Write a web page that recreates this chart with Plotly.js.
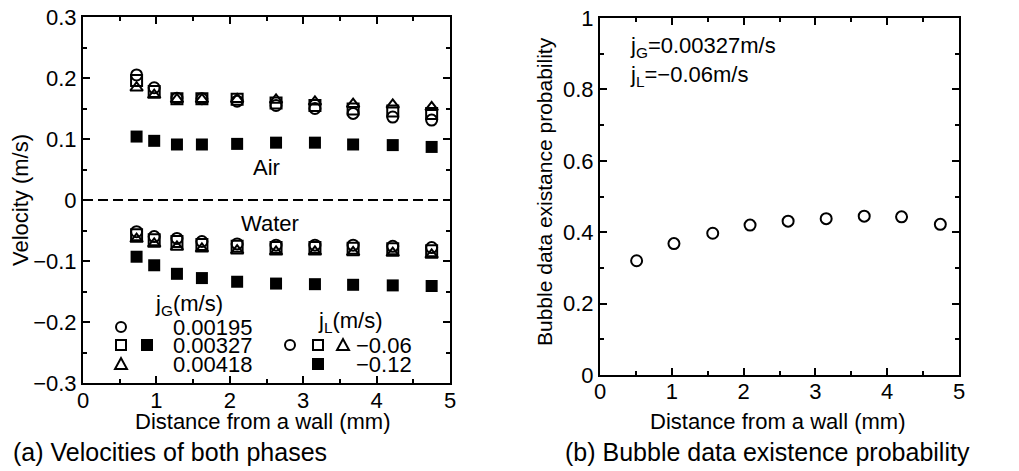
<!DOCTYPE html>
<html>
<head>
<meta charset="utf-8">
<script src="https://cdn.plot.ly/plotly-3.0.1.min.js"></script>
<style>html,body{margin:0;padding:0;background:#fff;}#chart{width:1019px;height:471px;}</style>
</head>
<body>
<div id="chart"></div>
<script>
// ---- Data ----
const distLeft = [0.73, 0.97, 1.28, 1.62, 2.10, 2.63, 3.16, 3.68, 4.22, 4.75];
// Air velocity (m/s), jL = -0.06
const airJG00195 = [0.205, 0.184, 0.167, 0.166, 0.162, 0.155, 0.150, 0.142, 0.136, 0.131];
const airJG00327 = [0.196, 0.178, 0.166, 0.166, 0.165, 0.159, 0.155, 0.149, 0.146, 0.142];
const airJG00418 = [0.184, 0.172, 0.165, 0.165, 0.165, 0.164, 0.161, 0.157, 0.156, 0.152];
// Air velocity, jG = 0.00327, jL = -0.12
const airJG00327JL012 = [0.104, 0.097, 0.091, 0.091, 0.092, 0.094, 0.094, 0.091, 0.090, 0.087];
// Water velocity (m/s), jL = -0.06
const waterJG00195 = [-0.052, -0.060, -0.063, -0.068, -0.072, -0.074, -0.074, -0.074, -0.076, -0.078];
const waterJG00327 = [-0.057, -0.065, -0.068, -0.073, -0.076, -0.078, -0.078, -0.079, -0.080, -0.083];
const waterJG00418 = [-0.064, -0.072, -0.077, -0.080, -0.083, -0.085, -0.085, -0.086, -0.087, -0.090];
// Water velocity, jG = 0.00327, jL = -0.12
const waterJG00327JL012 = [-0.093, -0.107, -0.121, -0.128, -0.134, -0.137, -0.138, -0.139, -0.140, -0.141];

const distRight = [0.51, 1.03, 1.57, 2.09, 2.62, 3.15, 3.68, 4.20, 4.74];
const existProb = [0.320, 0.368, 0.397, 0.420, 0.431, 0.438, 0.445, 0.443, 0.422];

const jgLabels = ['0.00195', '0.00327', '0.00418'];
const jlLabels = ['\u22120.06', '\u22120.12'];

// ---- Helpers ----
const W = 1019, H = 471;
const px = v => v / W;
const py = v => 1 - v / H;
const FONT = 'Liberation Sans, Arial, sans-serif';
const FS = 22;

function openTrace(x, y, symbol, xa, ya) {
  return {x, y, xaxis: xa, yaxis: ya, type: 'scatter', mode: 'markers', showlegend: false, hoverinfo: 'skip',
    marker: {symbol, size: 11, color: '#000', line: {color: '#000', width: 2}}};
}
function filledTrace(x, y, xa, ya) {
  return {x, y, xaxis: xa, yaxis: ya, type: 'scatter', mode: 'markers', showlegend: false, hoverinfo: 'skip',
    marker: {symbol: 'square', size: 12, color: '#000', line: {width: 0}}};
}

const data = [
  openTrace(distLeft, airJG00195, 'circle-open', 'x', 'y'),
  openTrace(distLeft, airJG00327, 'square-open', 'x', 'y'),
  openTrace(distLeft, airJG00418, 'triangle-up-open', 'x', 'y'),
  filledTrace(distLeft, airJG00327JL012, 'x', 'y'),
  openTrace(distLeft, waterJG00195, 'circle-open', 'x', 'y'),
  openTrace(distLeft, waterJG00327, 'square-open', 'x', 'y'),
  openTrace(distLeft, waterJG00418, 'triangle-up-open', 'x', 'y'),
  filledTrace(distLeft, waterJG00327JL012, 'x', 'y'),
  openTrace(distRight, existProb, 'circle-open', 'x2', 'y2')
];

function axisBase(extra) {
  return Object.assign({
    showline: true, linecolor: '#000', linewidth: 2, mirror: 'ticks',
    ticks: 'inside', ticklen: 7, tickwidth: 2, tickcolor: '#000',
    showgrid: false, zeroline: false, fixedrange: true,
    tickfont: {family: FONT, size: FS, color: '#000'}
  }, extra);
}
const minorTicks = d => ({dtick: d, ticks: 'inside', ticklen: 4, tickwidth: 2, tickcolor: '#000'});

// legend key shapes (pixel-sized, anchored in paper coords)
function keyShape(kind, cx, cy, filled) {
  const s = {xref: 'paper', yref: 'paper', xsizemode: 'pixel', ysizemode: 'pixel',
    xanchor: px(cx), yanchor: py(cy), line: {color: '#000', width: 2},
    fillcolor: filled ? '#000' : 'rgba(0,0,0,0)'};
  if (kind === 'circle') Object.assign(s, {type: 'circle', x0: -5, x1: 5, y0: -5, y1: 5});
  else if (kind === 'square') Object.assign(s, {type: 'rect', x0: -5, x1: 5, y0: -5, y1: 5});
  else Object.assign(s, {type: 'path', path: 'M-6,-5 L6,-5 L0,6 Z'});
  return s;
}

const shapes = [
  {type: 'line', xref: 'x domain', yref: 'y', x0: 0, x1: 1, y0: 0, y1: 0,
   line: {color: '#000', width: 2, dash: '10px,5px'}},
  keyShape('circle', 121, 327, false),
  keyShape('square', 121, 345, false),
  keyShape('square', 147, 345, true),
  keyShape('triangle', 121, 364, false),
  keyShape('circle', 290, 345, false),
  keyShape('square', 318, 345, false),
  keyShape('triangle', 343, 345, false),
  keyShape('square', 318, 364, true)
];

function txt(text, x, y, xanchor, size, angle) {
  return {text, xref: 'paper', yref: 'paper', x: px(x), y: py(y), xanchor: xanchor || 'left', yanchor: 'middle',
    textangle: angle || 0,
    showarrow: false, font: {family: FONT, size: size || FS, color: '#000'}};
}

const annotations = [
  txt('Air', 266, 168, 'center'),
  txt('Water', 270, 223, 'center'),
  txt('j<sub>G</sub>(m/s)', 153, 305),
  txt(jgLabels[0], 171, 327),
  txt(jgLabels[1], 171, 345),
  txt(jgLabels[2], 171, 364),
  txt('j<sub>L</sub>(m/s)', 316, 322),
  txt(jlLabels[0], 414, 345, 'right'),
  txt(jlLabels[1], 414, 364, 'right'),
  txt('j<sub>G</sub>=0.00327m/s', 628, 47),
  txt('j<sub>L</sub>=\u22120.06m/s', 628, 76),
  // axis titles
  txt('Distance from a wall (mm)', 262, 421, 'center'),
  txt('Velocity (m/s)', 20, 200, 'center', FS, -90),
  txt('Distance from a wall (mm)', 777, 421, 'center'),
  txt('Bubble data existance probability', 544, 192, 'center', 21, -90),
  // captions
  txt('(a) Velocities of both phases', 170, 452, 'center', 25),
  txt('(b) Bubble data existence probability', 767, 452, 'center', 25)
];

const layout = {
  width: W, height: H,
  margin: {l: 0, r: 0, t: 0, b: 0},
  paper_bgcolor: '#fff', plot_bgcolor: '#fff',
  showlegend: false,
  font: {family: FONT, color: '#000'},
  xaxis: axisBase({domain: [px(83), px(450)], range: [0, 5], dtick: 1, anchor: 'y',
    ticklabelstandoff: -3, minor: minorTicks(0.5)}),
  yaxis: axisBase({domain: [py(383), py(17)], range: [-0.3, 0.3], dtick: 0.1, anchor: 'x',
    minor: minorTicks(0.05)}),
  xaxis2: axisBase({domain: [px(600), px(959)], range: [0, 5], dtick: 1, anchor: 'y2',
    ticklabelstandoff: -4, minor: minorTicks(0.5)}),
  yaxis2: axisBase({domain: [py(375), py(18)], range: [0, 1], dtick: 0.2, anchor: 'x2',
    minor: minorTicks(0.1)}),
  shapes, annotations
};

Plotly.newPlot('chart', data, layout, {staticPlot: true, displayModeBar: false});
</script>
</body>
</html>
